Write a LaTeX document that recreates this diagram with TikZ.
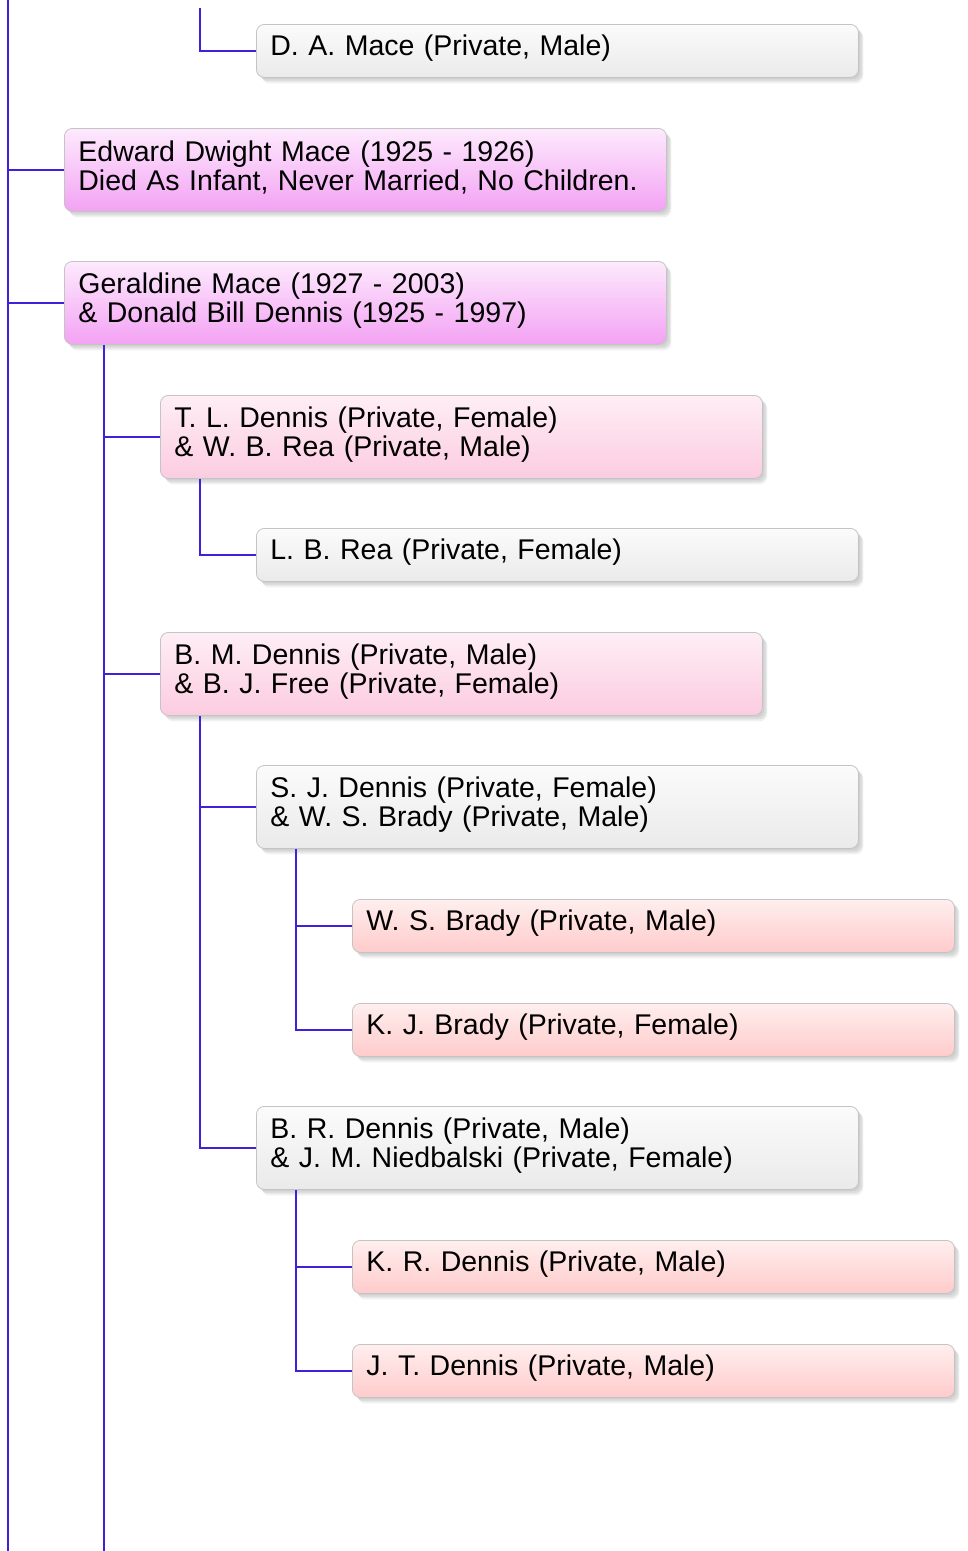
\documentclass[tikz,border=0pt]{standalone}
\usepackage{fontspec}
\setmainfont{Liberation Sans}
\usetikzlibrary{shadows}
\definecolor{conncol}{HTML}{4020D8}
\definecolor{bordercol}{HTML}{C4C4C4}
\definecolor{greytop}{HTML}{FBFBFB}
\definecolor{greybot}{HTML}{EAEAEA}
\definecolor{magtop}{HTML}{FDEAFD}
\definecolor{magbot}{HTML}{F3A2F3}
\definecolor{pinktop}{HTML}{FEEEF5}
\definecolor{pinkbot}{HTML}{FCCCE0}
\definecolor{salmtop}{HTML}{FFEEEE}
\definecolor{salmbot}{HTML}{FFCBCB}
\newcommand{\padbottom}{\endgraf\kern5pt}
\begin{document}
\begin{tikzpicture}[x=1pt,y=-1pt,
  person/.style={draw=bordercol, line width=0.8pt, rounded corners=8pt,
    anchor=north west, minimum width=602pt, inner xsep=14pt, inner ysep=0pt,
    text width=574pt, align=left, font=\fontsize{28.5}{29}\selectfont,
    execute at end node={\padbottom},
    general shadow={shadow xshift=5pt, shadow yshift=-6pt, fill=black, opacity=0.06},
    general shadow={shadow xshift=4pt, shadow yshift=-4pt, fill=black, opacity=0.08},
    general shadow={shadow xshift=2pt, shadow yshift=-2pt, fill=black, opacity=0.06}},
  onebox/.style={person, minimum height=53pt},
  twobox/.style={person, minimum height=83pt},
  greybox/.style={top color=greytop, bottom color=greybot},
  magbox/.style={top color=magtop, bottom color=magbot},
  pinkbox/.style={top color=pinktop, bottom color=pinkbot},
  salmbox/.style={top color=salmtop, bottom color=salmbot},
  conn/.style={draw=conncol, line width=1.5pt}]
\useasboundingbox (0,0) rectangle (968,1551);

% free ends
\coordinate (ltop) at (8,0);
\coordinate (lbot) at (8,1551);
\coordinate (datop) at (200,8);
\coordinate (gbot) at (104,1551);

% nodes
\node[onebox, greybox] (da) at (256,24) {D. A. Mace (Private, Male)};
\node[twobox, magbox] (ed) at (64,128) {Edward Dwight Mace (1925 - 1926)\\Died As Infant, Never Married, No Children.};
\node[twobox, magbox] (ge) at (64,261) {Geraldine Mace (1927 - 2003)\\\& Donald Bill Dennis (1925 - 1997)};
\node[twobox, pinkbox] (tl) at (160,395) {T. L. Dennis (Private, Female)\\\& W. B. Rea (Private, Male)};
\node[onebox, greybox] (lb) at (256,528) {L. B. Rea (Private, Female)};
\node[twobox, pinkbox] (bm) at (160,632) {B. M. Dennis (Private, Male)\\\& B. J. Free (Private, Female)};
\node[twobox, greybox] (sj) at (256,765) {S. J. Dennis (Private, Female)\\\& W. S. Brady (Private, Male)};
\node[onebox, salmbox] (ws) at (352,899) {W. S. Brady (Private, Male)};
\node[onebox, salmbox] (kj) at (352,1003) {K. J. Brady (Private, Female)};
\node[twobox, greybox] (br) at (256,1106) {B. R. Dennis (Private, Male)\\\& J. M. Niedbalski (Private, Female)};
\node[onebox, salmbox] (kr) at (352,1240) {K. R. Dennis (Private, Male)};
\node[onebox, salmbox] (jt) at (352,1344) {J. T. Dennis (Private, Male)};

% connectors
\draw[conn] (ltop) -- (lbot);
\draw[conn] (ed.west) -- (ed.west -| ltop);
\draw[conn] (ge.west) -- (ge.west -| ltop);
\draw[conn] (datop) |- (da.west);

\draw[conn] ([xshift=40pt]ge.south west) -- (gbot);
\draw[conn] (tl.west) -- (tl.west -| gbot);
\draw[conn] (bm.west) -- (bm.west -| gbot);

\draw[conn] ([xshift=40pt]tl.south west) |- (lb.west);
\draw[conn] ([xshift=40pt]bm.south west) |- (br.west);
\draw[conn] (sj.west) -- ++(-56pt,0);

\draw[conn] ([xshift=40pt]sj.south west) |- (kj.west);
\draw[conn] (ws.west) -- ++(-56pt,0);
\draw[conn] ([xshift=40pt]br.south west) |- (jt.west);
\draw[conn] (kr.west) -- ++(-56pt,0);
\end{tikzpicture}
\end{document}
